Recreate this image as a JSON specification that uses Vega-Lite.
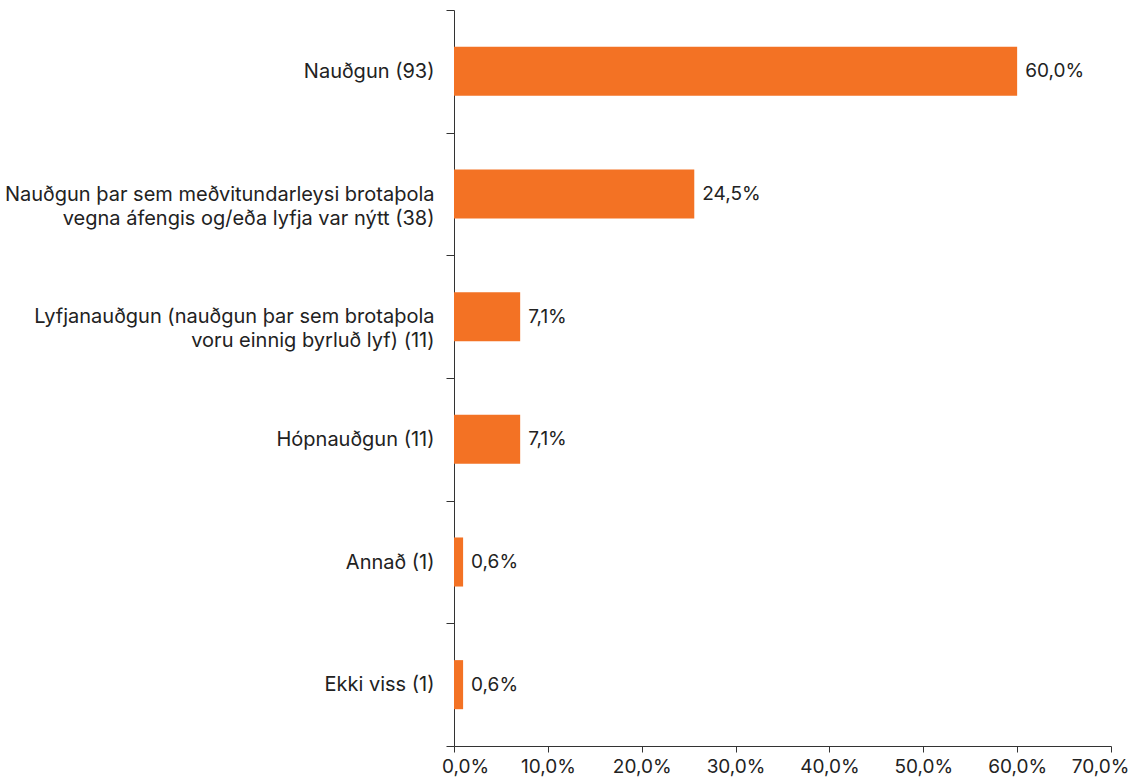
{
  "$schema": "https://vega.github.io/schema/vega-lite/v6.json",
  "autosize": {"type": "none"},
  "padding": {"left": 454, "top": 10, "right": 22, "bottom": 34},
  "width": 657,
  "height": 736,
  "background": "white",
  "config": {
    "view": {"stroke": null},
    "font": "Inter",
    "axis": {"labelFont": "Inter", "labelFontSize": 19, "labelColor": "#222222", "domainColor": "#333333", "tickColor": "#333333", "grid": false, "title": null}
  },
  "data": {
    "values": [
      {"category": "Nauðgun (93)", "value": 0.600, "label": "60,0%"},
      {"category": "Nauðgun þar sem meðvitundarleysi brotaþola|vegna áfengis og/eða lyfja var nýtt (38)", "value": 0.256, "label": "24,5%"},
      {"category": "Lyfjanauðgun (nauðgun þar sem brotaþola|voru einnig byrluð lyf) (11)", "value": 0.0705, "label": "7,1%"},
      {"category": "Hópnauðgun (11)", "value": 0.0705, "label": "7,1%"},
      {"category": "Annað (1)", "value": 0.0097, "label": "0,6%"},
      {"category": "Ekki viss (1)", "value": 0.0097, "label": "0,6%"}
    ]
  },
  "encoding": {
    "y": {
      "field": "category",
      "type": "nominal",
      "sort": null,
      "scale": {"paddingInner": 0, "paddingOuter": 0},
      "axis": {
        "labelExpr": "isValid(datum.value) ? split(datum.value, '|') : ''",
        "labelFontSize": 20,
        "labelLimit": 500,
        "labelPadding": 12,
        "tickSize": 8,
        "tickBand": "extent",
        "labelLineHeight": 24
      }
    },
    "x": {
      "field": "value",
      "type": "quantitative",
      "scale": {"domain": [0, 0.7], "nice": false},
      "axis": {
        "values": [0, 0.1, 0.2, 0.3, 0.4, 0.5, 0.6, 0.7],
        "labelExpr": "replace(format(datum.value, '.1%'), '.', ',')",
        "tickSize": 6,
        "labelPadding": 5,
        "labelFlush": false,
        "labelOffset": {"condition": [{"test": "datum.value >= 0.69", "value": -11}, {"test": "datum.value <= 0.01", "value": 11}], "value": 0}
      }
    }
  },
  "layer": [
    {"mark": {"type": "bar", "color": "#F37224", "height": {"band": 0.4}}},
    {
      "mark": {"type": "text", "align": "left", "dx": 8, "fontSize": 19, "color": "#222222", "font": "Inter"},
      "encoding": {"text": {"field": "label"}}
    }
  ]
}
